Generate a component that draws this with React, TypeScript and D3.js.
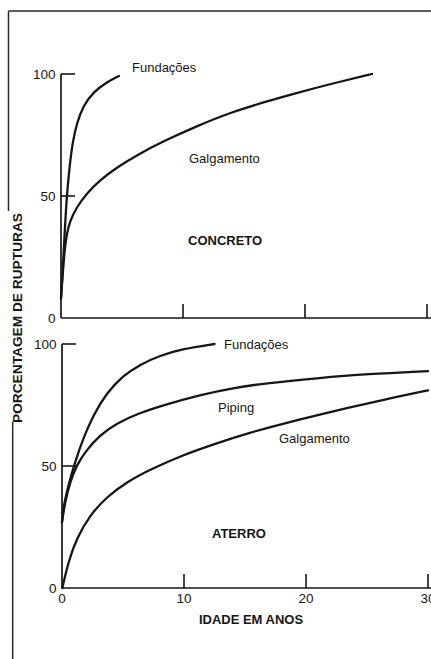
import * as d3 from 'd3';

// Concreto (top panel)
const concFundYears = [0, 0.15, 0.3, 0.47, 0.7, 0.95, 1.3, 1.83, 2.65, 3.75, 4.75];
const concFundPct = [8, 20, 35, 50, 62, 72, 80, 87, 92.6, 96.7, 99.2];
const concGalgYears = [0, 0.33, 0.74, 1.3, 2.1, 3.2, 4.6, 6.3, 8.4, 11.2, 13.9, 16.6, 19.3, 22, 25.5];
const concGalgPct = [8, 32, 40, 45.5, 51, 56.5, 61.8, 67, 72.5, 78.8, 84.2, 88.4, 92.2, 95.8, 100];

// Aterro (bottom panel)
const atFundYears = [0, 0.1, 0.52, 1.07, 1.75, 2.57, 3.66, 5.0, 6.4, 8.0, 9.9, 12.5];
const atFundPct = [27, 32.8, 42.2, 51.6, 61.5, 70.9, 79.9, 87, 91.6, 95.2, 98, 100];
const atPipYears = [0, 0.25, 0.66, 1.2, 2.0, 3.1, 4.5, 6.3, 8.6, 11.3, 14, 16.8, 20.9, 25, 30];
const atPipPct = [27, 35.2, 43.4, 50.4, 56.5, 62.7, 67.6, 71.7, 75.4, 79.1, 82, 84, 86, 87.7, 88.9];
const atGalgYears = [0.03, 0.52, 1.2, 2.3, 3.66, 5.3, 7.2, 9.9, 12.7, 15.4, 18.1, 20.9, 23.6, 26.3, 30];
const atGalgPct = [0, 10.7, 20.5, 29.9, 37.3, 43.4, 48.5, 54.5, 59.4, 63.7, 67.3, 70.8, 74, 77.1, 81];

const yTicks = [0, 50, 100];
const xTicks = [0, 10, 20, 30];

const W = 431;
const H = 659;
const FONT = 'Liberation Sans, Arial, Helvetica, sans-serif';
const INK = '#161616';

const zip = (xs: number[], ys: number[]) => xs.map((x, i) => [x, ys[i]] as [number, number]);

interface PanelProps {
  x0: number;
  yTop: number;
  yBottom: number;
  series: Array<[number, number][]>;
  showXLabels: boolean;
}

function Panel({ x0, yTop, yBottom, series, showXLabels }: PanelProps) {
  const x = d3.scaleLinear().domain([0, 30]).range([x0, x0 + 366]);
  const y = d3.scaleLinear().domain([0, 100]).range([yBottom, yTop]);
  const line = d3
    .line<[number, number]>()
    .x((d) => x(d[0]))
    .y((d) => y(d[1]))
    .curve(d3.curveBasis);

  return (
    <g>
      {/* axes */}
      <line x1={x(0)} x2={x(0)} y1={y(100)} y2={y(0)} stroke={INK} strokeWidth={1.7} />
      <line x1={x(0)} x2={W} y1={y(0)} y2={y(0)} stroke={INK} strokeWidth={1.7} />
      {yTicks.filter((t) => t > 0).map((t) => (
        <line key={'yt' + t} x1={x(0)} x2={x(0) + 14} y1={y(t)} y2={y(t)} stroke={INK} strokeWidth={1.6} />
      ))}
      {xTicks.filter((t) => t > 0).map((t) => (
        <line key={'xt' + t} x1={x(t)} x2={x(t)} y1={y(0)} y2={y(0) - 14} stroke={INK} strokeWidth={1.6} />
      ))}
      {yTicks.map((t) => (
        <text key={'yl' + t} x={x(0) - 5.5} y={y(t) + 5} textAnchor="end" fontSize={13.5} fontFamily={FONT} fill={INK}>
          {t}
        </text>
      ))}
      {showXLabels &&
        xTicks.map((t) => (
          <text key={'xl' + t} x={x(t)} y={y(0) + 15} textAnchor="middle" fontSize={13.5} fontFamily={FONT} fill={INK}>
            {t}
          </text>
        ))}
      {/* curves */}
      {series.map((s, i) => (
        <path key={i} d={line(s) || ''} fill="none" stroke={INK} strokeWidth={2.3} strokeLinecap="round" />
      ))}
    </g>
  );
}

export default function App() {
  return (
    <svg
      width={W}
      height={H}
      style={{ position: 'absolute', left: 0, top: 0, background: '#fff', display: 'block' }}
    >
      <rect width={W} height={H} fill="#fff" />
      {/* frame lines */}
      <line x1={8.5} x2={W} y1={11} y2={11} stroke="#2a2a2a" strokeWidth={1.5} />
      <line x1={8.5} x2={8.5} y1={11} y2={211} stroke="#2a2a2a" strokeWidth={1.5} />
      <line x1={12.7} x2={12.7} y1={422} y2={H} stroke="#2a2a2a" strokeWidth={1.5} />

      <Panel
        x0={61}
        yTop={74}
        yBottom={318}
        series={[zip(concFundYears, concFundPct), zip(concGalgYears, concGalgPct)]}
        showXLabels={false}
      />
      <Panel
        x0={62}
        yTop={344}
        yBottom={588}
        series={[zip(atFundYears, atFundPct), zip(atPipYears, atPipPct), zip(atGalgYears, atGalgPct)]}
        showXLabels={true}
      />

      {/* series labels */}
      <g fontFamily={FONT} fill={INK} fontSize={13}>
        <text x={132} y={71.5}>Fundações</text>
        <text x={189} y={162.5}>Galgamento</text>
        <text x={224} y={348.5}>Fundações</text>
        <text x={218} y={411.5}>Piping</text>
        <text x={279} y={442.5}>Galgamento</text>
      </g>
      <g fontFamily={FONT} fill={INK} fontSize={13} fontWeight="bold">
        <text x={188} y={245}>CONCRETO</text>
        <text x={212} y={538}>ATERRO</text>
        <text x={251} y={624} textAnchor="middle">IDADE EM ANOS</text>
        <text
          transform="translate(21.7,318) rotate(-90)"
          textAnchor="middle"
          fontSize={13.5}
          textLength={210}
          lengthAdjust="spacingAndGlyphs"
        >
          PORCENTAGEM DE RUPTURAS
        </text>
      </g>
    </svg>
  );
}
